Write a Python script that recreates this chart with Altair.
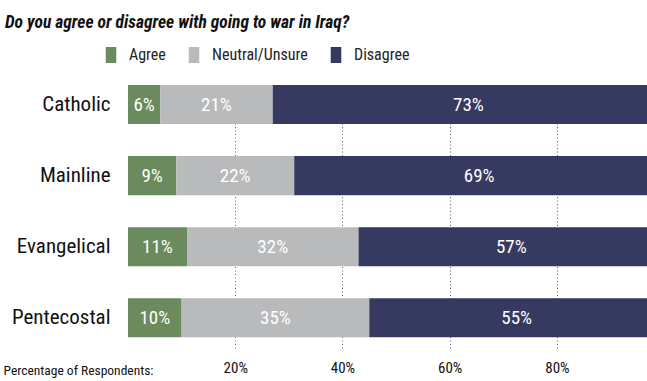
import altair as alt
import pandas as pd

religions = ["Catholic", "Mainline", "Evangelical", "Pentecostal"]
agree = [6, 9, 11, 10]
neutral = [21, 22, 32, 35]
disagree = [73, 69, 57, 55]
responses = ["Agree", "Neutral/Unsure", "Disagree"]
colors = ["#6b8a5e", "#b9babc", "#363a60"]
tick_values = [20, 40, 60, 80]

rows = []
for i, r in enumerate(religions):
    for k, (resp, vals) in enumerate(zip(responses, [agree, neutral, disagree])):
        rows.append({"religion": r, "response": resp, "value": vals[i], "order": k})
df = pd.DataFrame(rows)

FONT = "Liberation Sans Narrow, Roboto Condensed, DejaVu Sans Condensed, sans-serif"

base = alt.Chart(df).transform_stack(
    stack="value", groupby=["religion"], as_=["start", "end"],
    sort=[alt.SortField("order", order="ascending")]
).transform_calculate(mid="(datum.start + datum.end) / 2", label="datum.value + '%'")

xscale = alt.Scale(domain=[0, 96.8], nice=False, zero=False)
yscale = alt.Scale(paddingInner=0.45, paddingOuter=0.075, align=0)

bars = base.mark_bar(clip=True).encode(
    x=alt.X("start:Q", scale=xscale,
            axis=alt.Axis(values=tick_values, labelExpr="datum.value + '%'",
                          grid=True, gridDash=[1, 2.5], gridColor="#5a5f8a", gridWidth=1,
                          domain=False, ticks=False, labelFont=FONT, labelFontSize=15,
                          labelColor="#111", labelPadding=12, labelFontWeight="normal",
                          title="Percentage of Respondents:", titleFont=FONT,
                          titleFontSize=13.5, titleFontWeight="normal", titleColor="#111",
                          titleAnchor="start", titleAlign="left", titleX=-125, titleY=26,
                          titleBaseline="alphabetic")),
    x2="end:Q",
    y=alt.Y("religion:N", sort=religions, scale=yscale, title=None,
            axis=alt.Axis(domain=False, ticks=False, labelFont=FONT, labelFontSize=21,
                          labelColor="#111", labelPadding=18)),
    color=alt.Color("response:N", sort=responses,
                    scale=alt.Scale(domain=responses, range=colors),
                    legend=alt.Legend(orient="none", legendX=-25, legendY=-38,
                                      direction="horizontal", title=None,
                                      symbolType="M-0.66,-1H0.66V1H-0.66Z", symbolSize=256,
                                      symbolStrokeWidth=0, symbolOpacity=1,
                                      labelFont=FONT, labelFontSize=16, labelColor="#222",
                                      labelOffset=10, columnPadding=20)),
)

texts = base.mark_text(color="white", font=FONT, fontSize=19, baseline="middle").encode(
    x=alt.X("mid:Q", scale=xscale),
    y=alt.Y("religion:N", sort=religions, scale=yscale),
    text="label:N",
)

chart = alt.layer(bars, texts).properties(
    width=519, height=263,
    autosize=alt.AutoSizeParams(type="none"),
    padding={"left": 128, "top": 85, "right": 0, "bottom": 33},
    title=alt.TitleParams("Do you agree or disagree with going to war in Iraq?",
                          anchor="start", frame="group", dx=-123, font=FONT, fontSize=17.5,
                          fontStyle="italic", fontWeight="bold", color="#111", offset=16),
).configure_view(stroke=None)

chart.save("out.html", embed_options={"renderer": "svg", "actions": False})
